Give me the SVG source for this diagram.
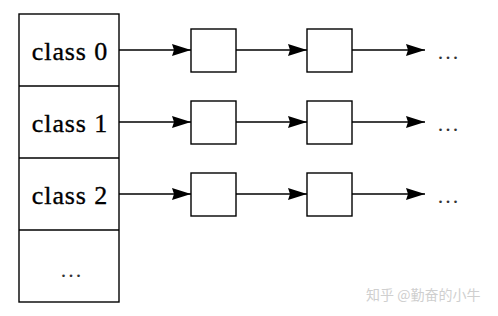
<svg xmlns="http://www.w3.org/2000/svg" width="498" height="316" viewBox="0 0 498 316">
<defs>
<style>
.b{fill:#fff;stroke:#000;stroke-width:1.4}
.t{font-size:26px;letter-spacing:0.9px;fill:#000;stroke:#000;stroke-width:0.35;text-anchor:middle}
.d{font-size:22px;letter-spacing:2px;fill:#333;text-anchor:middle}
.e{stroke:#000;stroke-width:1.4;fill:none}
</style>
<marker id="ah" markerWidth="20" markerHeight="14" refX="19" refY="7" orient="auto" markerUnits="userSpaceOnUse">
<path d="M0,1 L19,7 L0,13 L2,7 Z" fill="#000"/>
</marker>
</defs>
<rect width="498" height="316" fill="#fff"/>
<g id="table" font-family="Liberation Serif, serif">
<rect class="b" x="19" y="14" width="100" height="288"/>
<line class="e" x1="19" y1="86" x2="119" y2="86"/>
<line class="e" x1="19" y1="158" x2="119" y2="158"/>
<line class="e" x1="19" y1="230" x2="119" y2="230"/>
<text class="t" x="70" y="60">class 0</text>
<text class="t" x="70" y="132">class 1</text>
<text class="t" x="70" y="204">class 2</text>
<text class="d" x="72" y="277">...</text>
</g>
<g id="n01"><rect class="b" x="191" y="29" width="45" height="43"/></g>
<g id="n02"><rect class="b" x="307" y="29" width="45" height="43"/></g>
<g id="n11"><rect class="b" x="191" y="101" width="45" height="43"/></g>
<g id="n12"><rect class="b" x="307" y="101" width="45" height="43"/></g>
<g id="n21"><rect class="b" x="191" y="173" width="45" height="43"/></g>
<g id="n22"><rect class="b" x="307" y="173" width="45" height="43"/></g>
<g id="more" font-family="Liberation Serif, serif">
<text class="d" x="449" y="59">...</text>
<text class="d" x="449" y="131">...</text>
<text class="d" x="449" y="203">...</text>
</g>
<g id="connectors">
<line class="e" x1="119" y1="50" x2="191" y2="50" marker-end="url(#ah)"/>
<line class="e" x1="236" y1="50" x2="307" y2="50" marker-end="url(#ah)"/>
<line class="e" x1="352" y1="50" x2="425" y2="50" marker-end="url(#ah)"/>
<line class="e" x1="119" y1="122" x2="191" y2="122" marker-end="url(#ah)"/>
<line class="e" x1="236" y1="122" x2="307" y2="122" marker-end="url(#ah)"/>
<line class="e" x1="352" y1="122" x2="425" y2="122" marker-end="url(#ah)"/>
<line class="e" x1="119" y1="194" x2="191" y2="194" marker-end="url(#ah)"/>
<line class="e" x1="236" y1="194" x2="307" y2="194" marker-end="url(#ah)"/>
<line class="e" x1="352" y1="194" x2="425" y2="194" marker-end="url(#ah)"/>
</g>
<text x="366" y="300" font-family="Noto Sans CJK SC, sans-serif" font-size="14" fill="#cfcfcf">知乎 @勤奋的小牛</text>
</svg>
